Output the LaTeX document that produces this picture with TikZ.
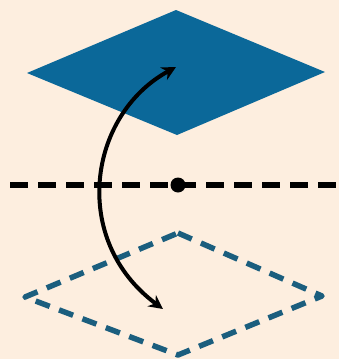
\documentclass[tikz,border=0pt]{standalone}
\usepackage{xcolor}
\usepackage{tikz}
\usetikzlibrary{arrows.meta}
\definecolor{bgpeach}{HTML}{FDEEDF}
\definecolor{planeblue}{HTML}{0B6899}
\definecolor{ghostblue}{HTML}{1B5E7E}

\begin{document}
\begin{tikzpicture}[x=1pt,y=-1pt]
\fill[bgpeach] (0,0) rectangle (339,359);
\useasboundingbox (0,0) rectangle (339,359);
% plane before flip
\fill[planeblue] (176,10) -- (325,72) -- (177,135) -- (27,73) -- cycle;
% mirror axis
\draw[line width=6pt,dash pattern=on 18pt off 10pt] (10,185) -- (339,185);
\node[circle,fill=black,inner sep=0pt,minimum size=15pt] (pivot) at (178,185) {};
% plane after flip
\draw[ghostblue,line width=5.5pt,dash pattern=on 15pt off 10pt,line join=round]
  (178,233) -- (322,296) -- (178,355) -- (25,297) -- cycle;
\coordinate (up) at (176,67);
\coordinate (down) at (163,309);
\draw[line width=4pt,{Stealth[length=14pt,width=14pt]}-{Stealth[length=14pt,width=14pt]}]
  (up) .. controls (88,115) and (70,240) .. (down);
\end{tikzpicture}
\end{document}
